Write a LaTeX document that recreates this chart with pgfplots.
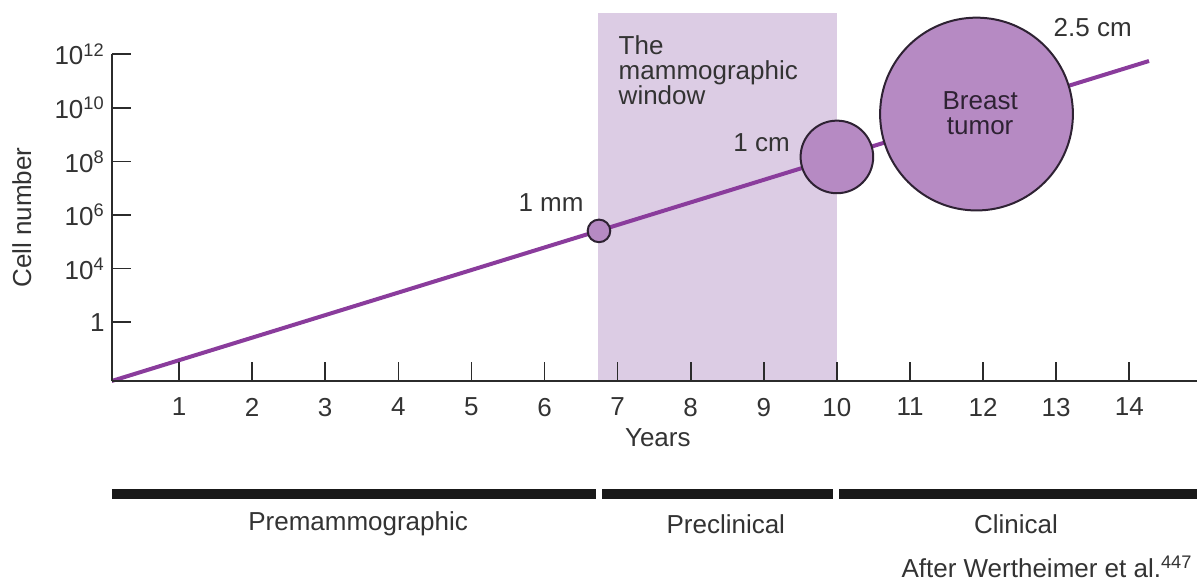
\documentclass[border=0pt]{standalone}
\usepackage{pgfplots}
\pgfplotsset{compat=1.18}
\usepackage{fontspec}
\setmainfont{Liberation Sans}

\definecolor{growth}{HTML}{8A3C9C}
\definecolor{tumor}{HTML}{B68AC3}
\definecolor{window}{HTML}{DCCCE4}
\definecolor{rim}{HTML}{2E2233}
\definecolor{axisc}{HTML}{2B2B2B}
\definecolor{txt}{HTML}{333333}

\tikzset{lbl/.style={font=\fontsize{13}{12.6}\selectfont, text=txt, inner sep=0pt}}

\begin{document}
\begin{tikzpicture}
\begin{axis}[
  scale only axis,
  width=542.4pt, height=163.35pt,
  xmin=0.08, xmax=14.92,
  ymin=0, ymax=6.095,
  axis lines=left,
  axis line style={-, line width=1pt, color=axisc},
  axis on top,
  clip=false,
  tick align=inside,
  major tick length=9.5pt,
  tick style={line width=0.8pt, color=axisc},
  xtick={1,...,14},
  xticklabels={1,2,3,4,5,6,7,8,9,10,11,12,13,14},
  ytick={1.095,2.095,3.095,4.095,5.095,6.095},
  yticklabels={1, 10\textsuperscript{4}, 10\textsuperscript{6}, 10\textsuperscript{8}, 10\textsuperscript{10}, 10\textsuperscript{12}},
  ticklabel style={font=\fontsize{13}{13}\selectfont, text=txt},
  xticklabel style={yshift=-5pt},
]
% mammographic window
\addplot[fill=window, draw=none] coordinates {(6.73,0) (6.73,6.86) (10,6.86) (10,0)} -- cycle;

% growth line
\addplot[color=growth, line width=2pt] coordinates {(0.08,0) (14.27,5.97)};

% tumour sizes
\addplot[only marks, mark=*, mark size=5.65pt, mark options={fill=tumor, draw=rim, line width=1pt}] coordinates {(6.745,2.80)};
\addplot[only marks, mark=*, mark size=18.15pt, mark options={fill=tumor, draw=rim, line width=1pt}] coordinates {(10.0,4.18)};
\addplot[only marks, mark=*, mark size=48.2pt, mark options={fill=tumor, draw=rim, line width=1pt}] coordinates {(11.91,4.98)};

% phase bars
\addplot[color=black!90, line width=5pt] coordinates {(0.08,-2.108) (6.70,-2.108)};
\addplot[color=black!90, line width=5pt] coordinates {(6.79,-2.108) (9.95,-2.108)};
\addplot[color=black!90, line width=5pt] coordinates {(10.03,-2.108) (14.93,-2.108)};

\node[lbl, anchor=north west, align=left] at (axis cs:7.01,6.455) {The\\mammographic\\window};
\node[lbl, anchor=east] at (axis cs:6.54,3.32) {1 mm};
\node[lbl, anchor=east] at (axis cs:9.36,4.44) {1 cm};
\node[lbl] at (axis cs:13.5,6.6) {2.5 cm};
\node[lbl] at (axis cs:7.55,-1.06) {Years};
\node[lbl, rotate=90] at (axis cs:-1.152,3.05) {Cell number};
\node[lbl] at (axis cs:3.45,-2.67) {Premammographic};
\node[lbl] at (axis cs:8.48,-2.67) {Preclinical};
\node[lbl] at (axis cs:12.45,-2.67) {Clinical};
\node[lbl, anchor=east] at (axis cs:14.87,-3.47) {After Wertheimer et al.\textsuperscript{447}};

\coordinate (bt) at (axis cs:11.96,5.0);
\coordinate (tl) at (axis cs:-1.449,7.108);
\coordinate (br) at (axis cs:14.94,-3.75);
\end{axis}
\node[lbl, align=center, text=rim] at (bt) {Breast\\tumor};
\pgfresetboundingbox
\useasboundingbox (tl) rectangle (br);
\end{tikzpicture}
\end{document}
